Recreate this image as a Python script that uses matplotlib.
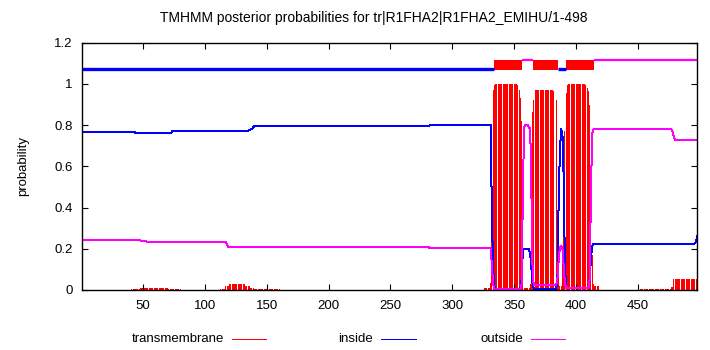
import matplotlib
matplotlib.use("Agg")
import matplotlib.pyplot as plt
import numpy as np
from matplotlib.lines import Line2D

plt.rcParams['font.family'] = ['Liberation Sans', 'DejaVu Sans']

title = "TMHMM posterior probabilities for tr|R1FHA2|R1FHA2_EMIHU/1-498"
seq_len = 498

# transmembrane posterior, run-length segments (start, end, value)
tm_segments = [
    (41, 47, 0.004), (48, 70, 0.011), (71, 80, 0.005),
    (113, 116, 0.005), (117, 119, 0.02), (120, 132, 0.03), (133, 136, 0.02),
    (137, 139, 0.012), (140, 160, 0.005),
    (326, 330, 0.01), (331, 331, 0.035), (332, 332, 0.785), (333, 333, 0.97),
    (334, 334, 0.995), (335, 352, 1.0), (353, 353, 0.995), (354, 354, 0.97),
    (355, 355, 0.93), (356, 356, 0.82), (357, 357, 0.5),
    (358, 362, 0.01), (363, 363, 0.03), (364, 364, 0.08), (365, 365, 0.865),
    (366, 366, 0.92), (367, 381, 0.97), (382, 383, 0.965), (384, 384, 0.92),
    (385, 385, 0.35), (386, 386, 0.1), (387, 388, 0.02), (389, 389, 0.19),
    (390, 390, 0.47), (391, 391, 0.77), (392, 392, 0.955), (393, 393, 0.995),
    (394, 407, 1.0), (408, 408, 0.995), (409, 409, 0.98), (410, 410, 0.965),
    (411, 411, 0.9), (412, 412, 0.44), (413, 413, 0.17), (414, 414, 0.03),
    (415, 418, 0.02), (452, 476, 0.003), (477, 478, 0.016), (479, 498, 0.052),
]

# inside posterior (residue, value) breakpoints
inside_res = [1, 43, 44, 64, 65, 73, 74, 135, 136, 138, 140, 281, 282, 331, 332, 333,
              334, 335, 355, 356, 357, 358, 362, 363, 364, 365, 366, 384, 385, 386,
              387, 388, 389, 390, 391, 392, 410, 411, 412, 413, 414, 492, 496, 497, 498]
inside_val = [0.767, 0.767, 0.761, 0.761, 0.764, 0.764, 0.772, 0.772, 0.777, 0.78, 0.795,
              0.795, 0.80, 0.80, 0.37, 0.10, 0.02, 0.005, 0.005, 0.05, 0.19, 0.20, 0.20,
              0.17, 0.10, 0.02, 0.005, 0.005, 0.06, 0.45, 0.68, 0.78, 0.76, 0.55, 0.12,
              0.01, 0.01, 0.05, 0.15, 0.21, 0.223, 0.223, 0.226, 0.236, 0.262]

# outside posterior (residue, value) breakpoints
outside_res = [1, 48, 49, 53, 54, 117, 118, 119, 120, 281, 282, 331, 332, 333, 334, 355,
               356, 357, 358, 359, 361, 362, 363, 364, 365, 366, 384, 385, 386, 387, 388,
               389, 390, 391, 392, 410, 411, 412, 413, 414, 477, 478, 479, 480, 498]
outside_val = [0.241, 0.241, 0.236, 0.236, 0.232, 0.232, 0.22, 0.209, 0.207, 0.207, 0.202,
               0.202, 0.12, 0.03, 0.005, 0.005, 0.03, 0.45, 0.79, 0.80, 0.80, 0.79, 0.78,
               0.45, 0.05, 0.025, 0.025, 0.06, 0.15, 0.21, 0.215, 0.20, 0.12, 0.03, 0.01,
               0.01, 0.05, 0.45, 0.76, 0.779, 0.779, 0.77, 0.745, 0.728, 0.728]

# predicted topology track (label, start, end)
topology = [("inside", 1, 333), ("TMhelix", 334, 356), ("outside", 357, 365),
            ("TMhelix", 366, 385), ("inside", 386, 391), ("TMhelix", 392, 414),
            ("outside", 415, 498)]

xticks = [50, 100, 150, 200, 250, 300, 350, 400, 450]
yticks = [0, 0.2, 0.4, 0.6, 0.8, 1, 1.2]
ytick_labels = ["0", "0.2", "0.4", "0.6", "0.8", "1", "1.2"]

RED, BLUE, MAG = "#ff0000", "#0000ff", "#ff00ff"
W, H = 710, 350
fig = plt.figure(figsize=(W / 100, H / 100), dpi=100)
L, R, B, T = 82.3, 697.3, 290.0, 42.7
ax = fig.add_axes([L / W, 1 - B / H, (R - L) / W, (B - T) / H])

# TM impulses
tm_x, tm_y = [], []
for s, e, v in tm_segments:
    for r in range(s, e + 1):
        tm_x.append(r)
        tm_y.append(v)
ax.bar(tm_x, tm_y, width=0.8, color=RED, lw=0, antialiased=False)

ax.plot(inside_res, inside_val, color=BLUE, lw=0.72, antialiased=False)
ax.plot(outside_res, outside_val, color=MAG, lw=0.72, antialiased=False)

# topology track
for lab, s, e in topology:
    x0 = max(s - 0.5, 1)
    x1 = min(e + 0.5, seq_len)
    if lab == "inside":
        ax.plot([x0, x1], [1.07, 1.07], color=BLUE, lw=2.4, solid_capstyle='butt')
    elif lab == "outside":
        ax.plot([x0, x1], [1.115, 1.115], color=MAG, lw=1.6, solid_capstyle='butt')
    else:
        ax.bar(x0, 0.049, width=x1 - x0, bottom=1.068, align='edge', color=RED, lw=0)

ax.set_xlim(1, seq_len)
ax.set_ylim(0, 1.2)
ax.set_xticks(xticks)
ax.set_yticks(yticks)
ax.set_yticklabels(ytick_labels)
ax.tick_params(direction='in', length=4, width=0.8, top=True, right=True,
               labelsize=9.5, pad=7)
for sp in ax.spines.values():
    sp.set_linewidth(1.0)

fig.text(374 / W, 1 - 18 / H, title, ha='center', va='center', fontsize=10)
fig.text(23 / W, 1 - 166 / H, "probability", rotation=90, ha='center', va='center',
         fontsize=9.5)

legend = [("transmembrane", RED, 232, 266), ("inside", BLUE, 381, 416),
          ("outside", MAG, 531, 565)]
ly = 1 - 339.3 / H
for lab, col, x0, x1 in legend:
    fig.text((x0 - 8) / W, ly, lab, ha='right', va='center', fontsize=9.5)
    fig.add_artist(Line2D([x0 / W, x1 / W], [ly, ly], color=col, lw=0.72,
                          antialiased=False, transform=fig.transFigure))

fig.savefig("out.png", dpi=100)
